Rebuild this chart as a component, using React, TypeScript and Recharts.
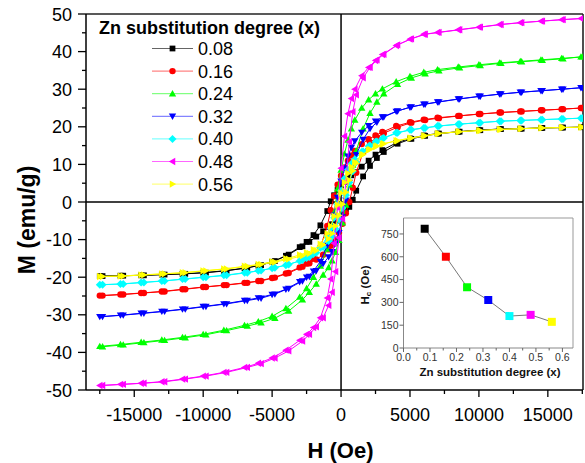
import React from "react";
import { ScatterChart, Scatter, XAxis, YAxis, ZAxis, ReferenceLine, Cell } from "recharts";

const FONT = '"Liberation Sans", Arial, Helvetica, sans-serif';

// applied field (Oe): descending branch, then ascending branch
const H_DOWN = [17500, 16000, 14500, 13000, 11500, 10000, 8500, 7000, 6000, 5000, 4000, 3000, 2500, 2000, 1500, 1000, 750, 500, 250, 0, -250, -500, -750, -1000, -1500, -2000, -2500, -3000, -4000, -5000, -6000, -7000, -8500, -10000, -11500, -13000, -14500, -16000, -17500];
const H_UP = [-17300, -15800, -14300, -12800, -11300, -9800, -8300, -6800, -5800, -4800, -3800, -2800, -2300, -1800, -1300, -900, -650, -400, -150, 100, 350, 600, 850, 1100, 1600, 2100, 2600, 3100, 4100, 5100, 6100, 7100, 8600, 10100, 11600, 13100, 14600, 16100, 17400];

// magnetization (emu/g)
const M_DOWN_008 = [19.9, 19.8, 19.7, 19.5, 19.4, 19.1, 18.7, 18.2, 17.7, 16.9, 15.7, 13.8, 12.6, 11.0, 9.4, 7.9, 7.1, 6.3, 5.4, 4.4, 3.2, 1.8, 0.2, -2.4, -6.2, -8.8, -10.6, -12.0, -14.3, -15.9, -16.9, -17.6, -18.3, -18.8, -19.1, -19.3, -19.5, -19.6, -19.7];
const M_UP_008 = [-19.7, -19.6, -19.5, -19.3, -19.1, -18.8, -18.3, -17.5, -16.8, -15.7, -14.0, -11.8, -10.6, -9.2, -7.8, -6.6, -5.9, -5.1, -4.2, -3.1, -1.9, -1.3, 0.6, 3.0, 6.8, 9.6, 11.7, 13.3, 15.5, 16.8, 17.6, 18.2, 18.7, 19.1, 19.4, 19.5, 19.7, 19.8, 19.9];

const M_DOWN_016 = [25.0, 24.7, 24.4, 24.1, 23.8, 23.4, 22.9, 22.4, 21.9, 21.2, 20.2, 18.6, 17.7, 16.7, 15.4, 13.6, 12.4, 11.0, 9.2, 7.0, 4.6, 1.6, -2.2, -6.4, -12.0, -15.0, -16.4, -17.4, -19.0, -20.2, -21.0, -21.5, -22.1, -22.6, -23.2, -23.8, -24.2, -24.6, -24.9];
const M_UP_016 = [-24.9, -24.6, -24.2, -23.8, -23.2, -22.6, -22.1, -21.5, -21.0, -20.1, -18.9, -17.2, -16.3, -15.3, -14.0, -12.6, -11.5, -10.0, -8.2, -5.8, -3.0, 0.0, 3.8, 7.8, 13.2, 15.8, 17.2, 18.3, 19.9, 21.1, 21.8, 22.3, 22.9, 23.4, 23.8, 24.1, 24.4, 24.7, 25.0];

const M_DOWN_024 = [38.6, 38.2, 37.8, 37.4, 37.0, 36.5, 35.9, 35.2, 34.5, 33.4, 32.0, 30.1, 28.8, 27.2, 25.0, 21.8, 19.5, 16.5, 12.8, 8.5, 3.5, -2.8, -8.5, -12.5, -17.0, -20.0, -23.0, -25.3, -28.3, -30.4, -31.8, -32.8, -34.1, -35.2, -36.0, -36.7, -37.3, -37.9, -38.4];
const M_UP_024 = [-38.5, -38.0, -37.4, -36.8, -36.1, -35.3, -34.2, -33.0, -32.1, -30.9, -29.0, -26.0, -24.0, -21.8, -19.4, -17.4, -15.6, -13.4, -10.2, -5.5, -0.8, 4.6, 9.8, 13.6, 19.5, 23.6, 26.6, 28.8, 31.3, 33.0, 34.1, 34.9, 35.7, 36.3, 36.9, 37.3, 37.7, 38.1, 38.6];

const M_DOWN_032 = [30.4, 30.0, 29.6, 29.2, 28.7, 28.1, 27.4, 26.6, 26.0, 25.2, 24.1, 22.6, 21.5, 20.3, 18.5, 16.2, 14.5, 12.2, 9.0, 5.5, 1.2, -3.5, -7.8, -11.5, -15.8, -18.4, -20.0, -21.2, -23.2, -24.6, -25.5, -26.2, -27.1, -27.8, -28.5, -29.1, -29.6, -30.1, -30.5];
const M_UP_032 = [-30.5, -30.1, -29.6, -29.1, -28.5, -27.8, -27.1, -26.2, -25.6, -24.5, -23.0, -21.0, -19.8, -18.3, -16.4, -14.6, -13.2, -11.0, -8.2, -4.0, 0.5, 5.2, 9.4, 12.6, 16.6, 19.5, 21.2, 22.6, 24.2, 25.3, 26.0, 26.6, 27.4, 28.1, 28.7, 29.2, 29.6, 30.0, 30.4];

const M_DOWN_040 = [22.3, 22.1, 21.9, 21.7, 21.5, 21.1, 20.7, 20.2, 19.7, 19.2, 18.4, 16.9, 16.0, 14.8, 13.3, 11.4, 10.2, 8.6, 6.2, 3.0, -0.6, -4.2, -7.0, -9.2, -12.2, -13.8, -14.9, -15.7, -16.8, -17.6, -18.3, -18.8, -19.5, -20.0, -20.5, -21.0, -21.4, -21.8, -22.0];
const M_UP_040 = [-22.0, -21.8, -21.4, -21.0, -20.5, -20.0, -19.5, -18.8, -18.2, -17.5, -16.6, -15.4, -14.6, -13.5, -12.0, -10.4, -9.2, -7.2, -4.6, -1.6, 1.8, 5.2, 8.2, 10.6, 13.4, 15.0, 16.1, 17.0, 18.4, 19.2, 19.7, 20.2, 20.7, 21.1, 21.5, 21.7, 21.9, 22.1, 22.3];

const M_DOWN_048 = [48.8, 48.5, 48.1, 47.7, 47.2, 46.5, 45.8, 45.1, 44.6, 43.3, 41.6, 39.2, 37.6, 35.8, 33.6, 30.0, 27.5, 23.5, 17.5, 9.0, -1.5, -11.0, -20.5, -25.5, -30.8, -33.4, -35.2, -36.8, -39.4, -41.5, -42.9, -44.0, -45.3, -46.3, -47.1, -47.8, -48.2, -48.5, -48.8];
const M_UP_048 = [-48.8, -48.5, -48.2, -47.8, -47.1, -46.3, -45.3, -44.0, -43.0, -41.5, -39.6, -37.0, -35.2, -33.2, -30.8, -27.5, -24.0, -18.5, -9.5, -4.5, 5.5, 16.0, 24.0, 28.5, 33.0, 35.8, 37.8, 39.3, 41.8, 43.4, 44.6, 45.1, 45.8, 46.5, 47.2, 47.7, 48.1, 48.5, 48.8];

const M_DOWN_056 = [19.9, 19.8, 19.7, 19.5, 19.3, 19.0, 18.7, 18.2, 17.6, 17.0, 16.3, 15.4, 14.7, 13.8, 12.5, 10.6, 9.3, 7.6, 5.2, 2.4, -0.8, -3.8, -6.4, -8.4, -11.2, -12.7, -13.5, -14.1, -15.1, -15.9, -16.6, -17.1, -17.8, -18.3, -18.8, -19.1, -19.4, -19.7, -19.8];
const M_UP_056 = [-19.8, -19.7, -19.4, -19.1, -18.8, -18.3, -17.8, -17.1, -16.6, -16.0, -15.2, -14.3, -13.7, -12.9, -11.4, -9.8, -8.4, -6.4, -3.6, -0.6, 2.6, 5.8, 8.3, 10.3, 12.6, 14.0, 14.9, 15.5, 16.3, 17.0, 17.6, 18.2, 18.7, 19.0, 19.3, 19.5, 19.7, 19.8, 19.9];

const LABELS = ["0.08", "0.16", "0.24", "0.32", "0.40", "0.48", "0.56"];
const DOWNS = [M_DOWN_008, M_DOWN_016, M_DOWN_024, M_DOWN_032, M_DOWN_040, M_DOWN_048, M_DOWN_056];
const UPS = [M_UP_008, M_UP_016, M_UP_024, M_UP_032, M_UP_040, M_UP_048, M_UP_056];
const COLORS = ["#000000", "#ff0000", "#00ff00", "#0000ff", "#00ffff", "#ff00ff", "#ffff00"];
const MARKERS = ["square", "circle", "up", "down", "diamond", "left", "right"];

const X_TICKS = [-17500, -15000, -12500, -10000, -7500, -5000, -2500, 0, 2500, 5000, 7500, 10000, 12500, 15000, 17500];
const Y_TICKS = [-50, -45, -40, -35, -30, -25, -20, -15, -10, -5, 0, 5, 10, 15, 20, 25, 30, 35, 40, 45, 50];

// inset: coercivity vs Zn content
const ZN_X = [0.08, 0.16, 0.24, 0.32, 0.4, 0.48, 0.56];
const HC = [785, 600, 400, 315, 210, 218, 172];
const INSET_X_TICKS = [0, 0.05, 0.1, 0.15, 0.2, 0.25, 0.3, 0.35, 0.4, 0.45, 0.5, 0.55, 0.6];
const INSET_Y_TICKS = [0, 150, 300, 450, 600, 750];

const loops = DOWNS.map((down, s) => [
  ...H_DOWN.map((h, i) => ({ h, m: down[i] })),
  ...H_UP.map((h, i) => ({ h, m: UPS[s][i] })),
]);
const insetData = ZN_X.map((x, i) => ({ x, hc: HC[i] }));

function Marker({ kind, cx, cy, color, r = 3.2 }: { kind: string; cx: number; cy: number; color: string; r?: number }) {
  const p = (pts: number[][]) => pts.map(([dx, dy]) => `${cx + dx},${cy + dy}`).join(" ");
  const a = r * 1.15;
  const b = r * 0.85;
  switch (kind) {
    case "square":
      return <rect x={cx - r * 0.9} y={cy - r * 0.9} width={r * 1.8} height={r * 1.8} fill={color} />;
    case "circle":
      return <circle cx={cx} cy={cy} r={r} fill={color} />;
    case "up":
      return <polygon points={p([[0, -a], [a, b], [-a, b]])} fill={color} />;
    case "down":
      return <polygon points={p([[0, a], [a, -b], [-a, -b]])} fill={color} />;
    case "diamond":
      return <polygon points={p([[0, -r * 1.25], [r * 1.25, 0], [0, r * 1.25], [-r * 1.25, 0]])} fill={color} />;
    case "left":
      return <polygon points={p([[-a, 0], [b, -a], [b, a]])} fill={color} />;
    default:
      return <polygon points={p([[a, 0], [-b, -a], [-b, a]])} fill={color} />;
  }
}

function XTick(props: any) {
  const { x, y, payload } = props;
  const major = payload.value % 5000 === 0;
  return (
    <g>
      <line x1={x} x2={x} y1={y} y2={y + (major ? 7 : 4)} stroke="#000" strokeWidth={1.3} />
      {major && (
        <text x={x} y={y + 31} textAnchor="middle" fontSize={18} fontFamily={FONT} fill="#000">
          {payload.value}
        </text>
      )}
    </g>
  );
}

function YTick(props: any) {
  const { x, y, payload } = props;
  const major = payload.value % 10 === 0;
  return (
    <g>
      <line x1={x - (major ? 8 : 4)} x2={x} y1={y} y2={y} stroke="#000" strokeWidth={1.3} />
      {major && (
        <text x={x - 14} y={y + 6.5} textAnchor="end" fontSize={18} fontFamily={FONT} fill="#000">
          {payload.value}
        </text>
      )}
    </g>
  );
}

function InsetXTick(props: any) {
  const { x, y, payload } = props;
  const major = Math.round(payload.value * 100) % 10 === 0;
  return (
    <g>
      <line x1={x} x2={x} y1={y} y2={y + (major ? 4 : 2.5)} stroke="#666" strokeWidth={1} />
      {major && (
        <text x={x} y={y + 13} textAnchor="middle" fontSize={10.5} fontFamily={FONT} fill="#333">
          {payload.value.toFixed(1)}
        </text>
      )}
    </g>
  );
}

function InsetYTick(props: any) {
  const { x, y, payload } = props;
  return (
    <g>
      <line x1={x - 4} x2={x} y1={y} y2={y} stroke="#666" strokeWidth={1} />
      <text x={x - 5} y={y + 3.8} textAnchor="end" fontSize={10.5} fontFamily={FONT} fill="#333">
        {payload.value}
      </text>
    </g>
  );
}

function Inset() {
  return (
    <ScatterChart width={225} height={175} margin={{ top: 8, right: 7, bottom: 0, left: 0.5 }}>
      <XAxis
        type="number"
        dataKey="x"
        domain={[0, 0.64]}
        ticks={INSET_X_TICKS}
        interval={0}
        tickSize={0}
        tickMargin={0}
        tick={InsetXTick}
        height={37}
        axisLine={{ stroke: "#888", strokeWidth: 1 }}
        allowDataOverflow
      />
      <YAxis
        type="number"
        dataKey="hc"
        domain={[0, 855]}
        ticks={INSET_Y_TICKS}
        interval={0}
        tickSize={0}
        tickMargin={0}
        tick={InsetYTick}
        width={48}
        axisLine={{ stroke: "#888", strokeWidth: 1 }}
        allowDataOverflow
      />
      <ZAxis range={[50, 50]} />
      <ReferenceLine y={855} stroke="#999" strokeWidth={1} />
      <ReferenceLine x={0.64} stroke="#999" strokeWidth={1} />
      <Scatter
        data={insetData}
        fill="#777"
        line={{ stroke: "#777", strokeWidth: 1 }}
        shape="square"
        isAnimationActive={false}
      >
        {insetData.map((_, i) => (
          <Cell key={i} fill={COLORS[i]} />
        ))}
      </Scatter>
    </ScatterChart>
  );
}

export default function App() {
  return (
    <div style={{ position: "absolute", left: 0, top: 0, width: 585, height: 463, background: "#fff", fontFamily: FONT }}>
      <ScatterChart width={585} height={463} margin={{ top: 14, right: 2, bottom: 0, left: 0 }}>
        <XAxis
          type="number"
          dataKey="h"
          domain={[-18500, 17550]}
          ticks={X_TICKS}
          interval={0}
          tickSize={0}
          tickMargin={0}
          tick={XTick}
          height={73}
          axisLine={{ stroke: "#000", strokeWidth: 1.5 }}
          allowDataOverflow
        />
        <YAxis
          type="number"
          dataKey="m"
          domain={[-50, 50]}
          ticks={Y_TICKS}
          interval={0}
          tickSize={0}
          tickMargin={0}
          tick={YTick}
          width={86}
          axisLine={{ stroke: "#000", strokeWidth: 1.5 }}
          allowDataOverflow
        />
        <ReferenceLine y={50} stroke="#222" strokeWidth={1.6} />
        <ReferenceLine x={17550} stroke="#222" strokeWidth={1.6} />
        <ReferenceLine y={0} stroke="#000" strokeWidth={1.5} />
        <ReferenceLine x={0} stroke="#000" strokeWidth={1.5} />
        {loops.map((data, i) => (
          <Scatter
            key={LABELS[i]}
            name={LABELS[i]}
            data={data}
            fill={COLORS[i]}
            line={{ strokeWidth: 1 }}
            lineType="joint"
            isAnimationActive={false}
            shape={(p: any) => <Marker kind={MARKERS[i]} cx={p.cx} cy={p.cy} color={COLORS[i]} />}
          />
        ))}
      </ScatterChart>

      <div style={{ position: "absolute", left: 355, top: 210 }}>
        <Inset />
      </div>

      <svg width={585} height={463} style={{ position: "absolute", left: 0, top: 0, pointerEvents: "none" }} fontFamily={FONT}>
        <text transform="translate(27,220) rotate(-90)" textAnchor="middle" dominantBaseline="central" fontSize={23} fontWeight="bold">
          M (emu/g)
        </text>
        <text x={340.5} y={458} textAnchor="middle" fontSize={22} fontWeight="bold">
          H (Oe)
        </text>

        <text x={99} y={34} fontSize={18} fontWeight="bold">
          Zn substitution degree (x)
        </text>
        {LABELS.map((lab, i) => {
          const cy = 48.5 + i * 22.6;
          return (
            <g key={lab}>
              <line x1={152} x2={193} y1={cy} y2={cy} stroke={COLORS[i]} strokeWidth={1} opacity={0.6} />
              <Marker kind={MARKERS[i]} cx={172.5} cy={cy} color={COLORS[i]} />
              <text x={198} y={cy + 6.5} fontSize={18}>
                {lab}
              </text>
            </g>
          );
        })}

        <text transform="translate(365,285) rotate(-90)" textAnchor="middle" dominantBaseline="central" fontSize={11.5} fontWeight="bold" fill="#111">
          H<tspan fontSize={8} dy={3}>c</tspan>
          <tspan dy={-3}> (Oe)</tspan>
        </text>
        <text x={490} y={376} textAnchor="middle" fontSize={11.5} fontWeight="bold" fill="#111">
          Zn substitution degree (x)
        </text>
      </svg>
    </div>
  );
}
